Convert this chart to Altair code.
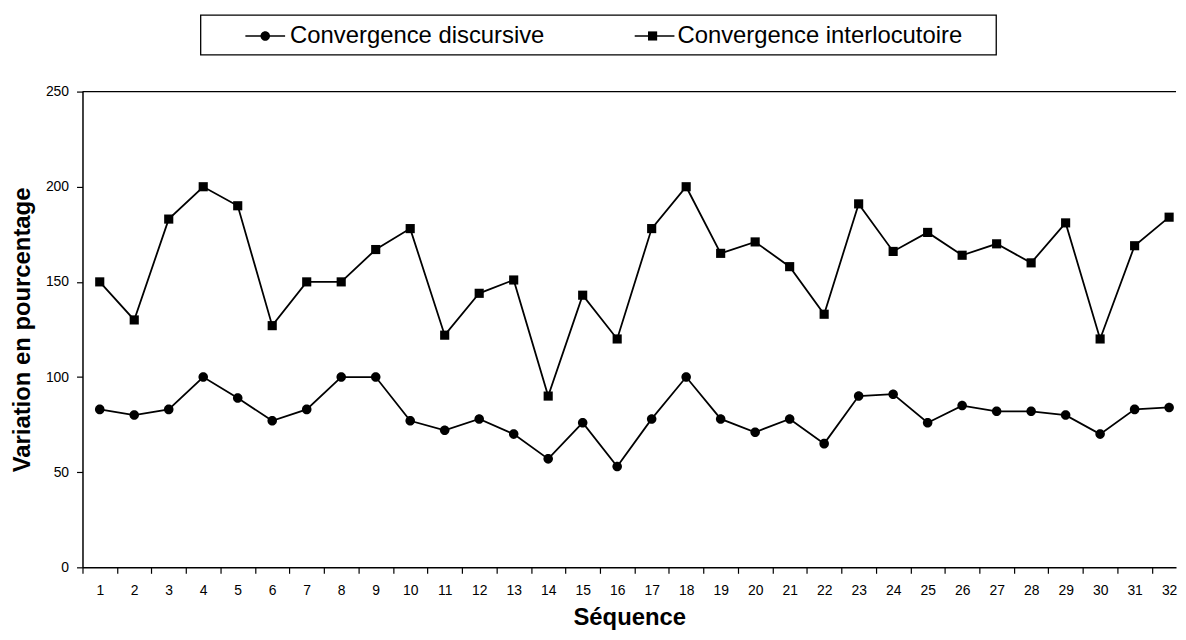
import altair as alt
import pandas as pd

# ---- data ----
sequences = list(range(1, 33))
discursive = [83, 80, 83, 100, 89, 77, 83, 100, 100, 77, 72, 78, 70, 57, 76, 53,
              78, 100, 78, 71, 78, 65, 90, 91, 76, 85, 82, 82, 80, 70, 83, 84]
interlocutoire = [150, 130, 183, 200, 190, 127, 150, 150, 167, 178, 122, 144, 151, 90, 143, 120,
                  178, 200, 165, 171, 158, 133, 191, 166, 176, 164, 170, 160, 181, 120, 169, 184]
series_names = ["Convergence discursive", "Convergence interlocutoire"]
y_ticks = [0, 50, 100, 150, 200, 250]

series_col = [series_names[0]] * len(sequences) + [series_names[1]] * len(sequences)
df = pd.DataFrame({
    "seq": sequences * 2,
    "valeur": discursive + interlocutoire,
    "serie": series_col,
    "serie_ligne": series_col,
})

W, H = 1101, 479
X_MIN, X_MAX = 0.5, 32.2
step = W / (X_MAX - X_MIN)

FONT = "Liberation Sans"

circle_path = "M0.24,0A0.24,0.24,0,1,1,-0.24,0A0.24,0.24,0,1,1,0.24,0Z"
square_path = "M-0.23,-0.23H0.23V0.23H-0.23Z"

# shared legend layout (two legends drawn on top of each other: line + marker)
LEG = dict(
    title=None, orient="none", legendX=163, legendY=-77, direction="horizontal",
    symbolSize=1600, labelFont=FONT, labelFontSize=24, labelColor="black",
    labelLimit=600, labelOffset=4, columnPadding=87, padding=0,
)

x_enc = alt.X(
    "seq:Q",
    scale=alt.Scale(domain=[X_MIN, X_MAX], nice=False, zero=False),
    axis=alt.Axis(
        values=sequences, title="Séquence", tickOffset=-step / 2, labelOffset=step / 2,
        labelOverlap=False, labelFlush=False, grid=False, titlePadding=9, labelPadding=10,
    ),
)
y_enc = alt.Y(
    "valeur:Q",
    scale=alt.Scale(domain=[0, 250], nice=False),
    axis=alt.Axis(values=y_ticks, title="Variation en pourcentage", grid=False, titlePadding=11),
)

base = alt.Chart(df)

# line layer: its colour legend (data-driven domain, so it is not merged) draws the legend's line
lines = base.mark_line(strokeWidth=1.8).encode(
    x=x_enc,
    y=y_enc,
    color=alt.Color(
        "serie_ligne:N",
        scale=alt.Scale(range=["black", "black"]),
        legend=alt.Legend(symbolType="stroke", symbolStrokeWidth=1.5,
                          symbolStrokeColor="black", labelOpacity=0, **LEG),
    ),
)

# point layer: its shape legend draws the markers and the labels
points = base.mark_point(filled=True, color="black", opacity=1, size=1600).encode(
    x=x_enc,
    y=y_enc,
    shape=alt.Shape(
        "serie:N",
        scale=alt.Scale(domain=series_names, range=[circle_path, square_path]),
        legend=alt.Legend(symbolFillColor="black", symbolOpacity=1, **LEG),
    ),
)

top_rule = alt.Chart(pd.DataFrame({"v": [250]})).mark_rule(color="black", strokeWidth=1.3).encode(
    y=alt.Y("v:Q", scale=alt.Scale(domain=[0, 250], nice=False))
)

legend_box = alt.Chart(pd.DataFrame({"k": [0]})).mark_rect(
    fill="transparent", stroke="black", strokeWidth=1.3
).encode(
    x=alt.value(119), x2=alt.value(920), y=alt.value(-77), y2=alt.value(-37)
)

chart = (
    alt.layer(legend_box, top_rule, lines, points)
    .properties(
        width=W, height=H,
        padding={"left": 75, "top": 82, "right": 2, "bottom": 70},
        autosize=alt.AutoSizeParams(type="none"),
        background="white",
    )
    .configure_view(stroke=None)
    .configure_axis(
        domainColor="black", domainWidth=1.5, tickColor="black", tickWidth=1.2, tickSize=6,
        labelFont=FONT, labelFontSize=14, labelColor="black", labelPadding=8,
        titleFont=FONT, titleFontSize=24, titleFontWeight="bold", titleColor="black",
    )
)

chart.save("out.html", embed_options={"renderer": "svg", "actions": False})
